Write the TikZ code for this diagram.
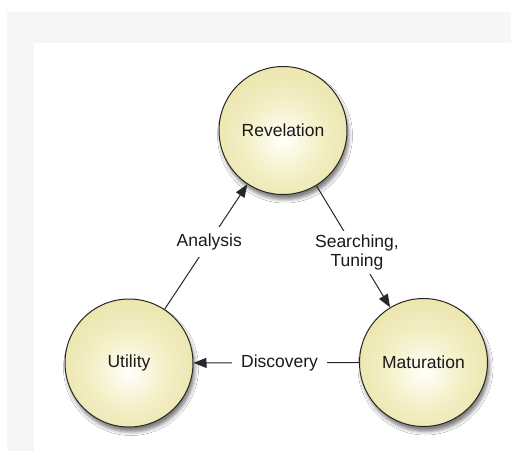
\documentclass[tikz,border=0pt]{standalone}
\usepackage{fontspec}
\setmainfont{Liberation Sans}
\usetikzlibrary{arrows.meta,shadows.blur}

\definecolor{ballrim}{RGB}{228,219,148}
\definecolor{ballmid}{RGB}{244,240,200}
\definecolor{ballcore}{RGB}{255,255,250}
\definecolor{linkgray}{RGB}{40,40,40}
\definecolor{paper}{RGB}{246,246,246}

% soft ball fill: bright core, yellow rim (50bp = circle edge)
\pgfdeclareradialshading{ballfill}{\pgfpoint{0bp}{-4bp}}{%
  color(0bp)=(ballcore); color(14bp)=(ballmid); color(40bp)=(ballrim);
  color(46bp)=(ballrim); color(60bp)=(ballrim)}

\tikzset{
  x=1pt, y=-1pt,
  ball/.style={circle, minimum size=128pt, inner sep=0pt,
    draw=black!85, line width=1pt, shading=ballfill,
    blur shadow={shadow xshift=2pt, shadow yshift=-5pt,
      shadow blur radius=3.5pt, shadow opacity=50},
    font=\fontsize{17.5}{20}\selectfont, text=black!90},
  link/.style={draw=linkgray, line width=1pt,
    -{Triangle[length=13pt,width=10pt]}},
  tag/.style={fill=white, inner sep=7pt, align=center,
    font=\fontsize{17.5}{20}\selectfont, text=black!90}
}

\begin{document}
\begin{tikzpicture}
  \useasboundingbox (0,0) rectangle (511,451);
  \fill[white] (0,0) rectangle (511,451);
  % light paper strips along the top and left edges
  \fill[paper] (7,12) rectangle (511,43);
  \fill[paper] (7,43) rectangle (34,451);

  \node[ball] (rev) at (283,130.5) {Revelation};
  \node[ball] (util) at (129,363) {Utility};
  \node[ball] (mat) at (423.5,362.5) {Maturation};

  \draw[link] (util) -- node[tag, pos=0.54] (an) {Analysis} (rev);
  \draw[link] (rev) -- node[tag, pos=0.55, inner sep=4pt] (st) {Searching,\\[-1pt]Tuning} (mat);
  \draw[link] (mat) -- node[tag, pos=0.48, inner sep=9pt] (di) {Discovery} (util);
\end{tikzpicture}
\end{document}
